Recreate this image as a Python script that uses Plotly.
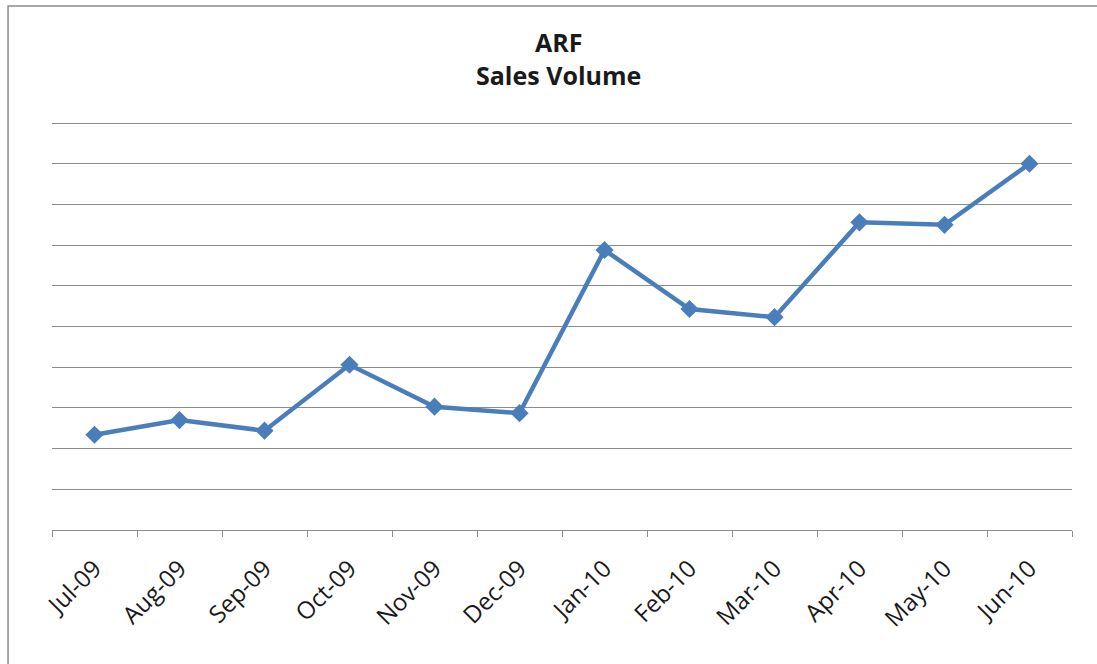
import plotly.graph_objects as go

# Monthly sales volume (relative units)
months = ["Jul-09", "Aug-09", "Sep-09", "Oct-09", "Nov-09", "Dec-09",
          "Jan-10", "Feb-10", "Mar-10", "Apr-10", "May-10", "Jun-10"]
volume = [234, 270, 244, 406, 303, 287, 688, 543, 523, 756, 750, 900]

BLUE = "#4a7ebb"
GRID = "#8c8c8c"
FONT = "Open Sans, Liberation Sans, sans-serif"
TEXT = "#1a1a1a"

fig = go.Figure()
fig.add_trace(go.Scatter(
    x=months, y=volume, mode="lines+markers",
    line=dict(color=BLUE, width=4.5),
    marker=dict(symbol="diamond", size=14, color=BLUE),
    showlegend=False, hoverinfo="x+y",
))

fig.update_layout(
    width=1097, height=664,
    margin=dict(l=52, r=25, t=121, b=134),
    paper_bgcolor="white", plot_bgcolor="white",
    xaxis=dict(
        type="category", tickson="boundaries", ticks="outside",
        ticklen=6, tickcolor=GRID, tickwidth=1,
        showline=True, linecolor=GRID, linewidth=1,
        showgrid=False, tickangle=-45, ticklabelstandoff=14,
        tickfont=dict(family=FONT, size=24, color=TEXT),
        range=[-0.5, 11.5],
    ),
    yaxis=dict(
        range=[0, 1005], dtick=100, showticklabels=False,
        showgrid=True, gridcolor=GRID, gridwidth=1,
        zeroline=False, showline=False, ticks="",
    ),
    annotations=[
        dict(text="<b>ARF</b><br><b>Sales Volume</b>",
             xref="paper", yref="paper", x=0.497, y=1.154,
             xanchor="center", yanchor="middle", align="center",
             showarrow=False, font=dict(family=FONT, size=25, color=TEXT)),
    ],
    shapes=[dict(
        type="path", xref="paper", yref="paper",
        path="M -0.0431 -0.33 L -0.0431 1.2812 L 1.1 1.2812",
        line=dict(color="#8a8a8a", width=1.5),
    )],
)

fig.write_html("out.html")
